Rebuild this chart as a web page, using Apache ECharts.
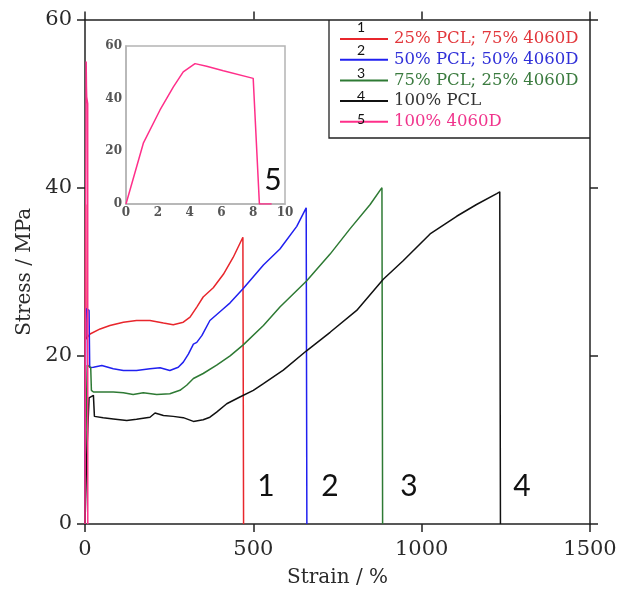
<!DOCTYPE html>
<html>
<head>
<meta charset="utf-8">
<script src="https://cdn.jsdelivr.net/npm/echarts@6/dist/echarts.min.js"></script>
<style>html,body{margin:0;padding:0;background:#fff;}#c{width:620px;height:594px;}</style>
</head>
<body>
<div id="c"></div>
<script>
// ---- data (strain %, stress MPa) ----
const seriesNames = ["25% PCL; 75% 4060D", "50% PCL; 50% 4060D", "75% PCL; 25% 4060D", "100% PCL", "100% 4060D"];
const seriesNumbers = ["1", "2", "3", "4", "5"];
const curve1 = [[0,0],[1,20],[2,38],[3,22],[8,21.8],[15,22.6],[45,23.2],[74,23.6],[114,24.0],[153,24.2],[193,24.2],[233,23.9],[262,23.7],[292,24.0],[312,24.6],[332,25.8],[351,27.0],[381,28.1],[411,29.7],[440,31.7],[469,34.1],[471,0]];
const curve2 = [[0,0],[2,24],[4,25.6],[12,25.4],[14,18.6],[25,18.65],[50,18.85],[84,18.46],[114,18.26],[153,18.26],[193,18.46],[223,18.58],[252,18.26],[277,18.65],[292,19.25],[307,20.2],[322,21.4],[332,21.6],[347,22.4],[371,24.2],[411,25.6],[431,26.3],[470,28.0],[530,30.8],[579,32.7],[629,35.4],[657,37.6],[659,0]];
const curve3 = [[0,0],[4,14],[7,18.9],[17,18.6],[19,15.9],[25,15.7],[54,15.7],[84,15.7],[114,15.6],[143,15.4],[173,15.6],[213,15.4],[252,15.5],[282,15.9],[302,16.5],[322,17.3],[351,17.9],[391,18.9],[431,20.0],[470,21.3],[530,23.6],[579,25.8],[658,28.9],[728,32.1],[787,35.1],[847,38.0],[882,40.0],[884,0]];
const curve4 = [[0,0],[5,8],[12,15],[25,15.3],[28,12.8],[54,12.65],[84,12.5],[124,12.3],[153,12.45],[193,12.7],[208,13.2],[233,12.9],[262,12.8],[292,12.65],[322,12.2],[351,12.4],[371,12.7],[391,13.3],[421,14.3],[460,15.1],[500,15.9],[530,16.7],[589,18.3],[658,20.6],[728,22.8],[807,25.4],[886,29.1],[945,31.3],[1025,34.5],[1104,36.6],[1163,38.0],[1223,39.3],[1232,39.5],[1234,0]];
const curve5 = [[0,0],[1,22],[2,36],[3,47],[3.5,55],[4.3,52],[5,50.8],[8,50],[8.3,0]];
const insetCurve5 = [[0,0],[1.09,23.1],[2.14,35.7],[2.98,44.5],[3.6,50.2],[4.34,53.3],[5.07,52.3],[6.12,50.6],[8.0,47.7],[8.39,0],[9.16,0]];
const xTicks = [0, 500, 1000, 1500];
const yTicks = [0, 20, 40, 60];
const insetXTicks = [0, 2, 4, 6, 8, 10];
const insetYTicks = [0, 20, 40, 60];

const colors = ["#e8262c", "#2020f0", "#2e7a34", "#111111", "#ff2f8a"];
const textColors = ["#e2373c", "#3030d8", "#3b7b3f", "#333333", "#f0348c"];
const serif = "DejaVu Serif";

const chart = echarts.init(document.getElementById('c'), null, {renderer: 'canvas'});

const mainAxisCommon = {
  min: 0,
  axisLine: {show: true, onZero: false, lineStyle: {color: '#222', width: 1.5}},
  axisTick: {show: true, inside: false, length: 8, lineStyle: {color: '#222', width: 1.5}},
  splitLine: {show: false}
};
const plain = v => String(v);

const option = {
  animation: false,
  backgroundColor: '#fff',
  grid: [
    {left: 85, top: 19.5, width: 505, height: 504.5, containLabel: false},
    {left: 126, top: 46, width: 159, height: 158, show: true, backgroundColor: '#fff', borderColor: '#b4b4b4', borderWidth: 1.5, z: 5}
  ],
  xAxis: [
    Object.assign({}, mainAxisCommon, {
      type: 'value', gridIndex: 0, position: 'bottom', max: xTicks[xTicks.length-1], interval: xTicks[1]-xTicks[0],
      axisLabel: {show: true, margin: 15, fontFamily: serif, fontSize: 21, color: '#2a2a2a', formatter: plain},
      name: 'Strain / %', nameLocation: 'middle', nameGap: 44,
      nameTextStyle: {fontFamily: serif, fontSize: 20, color: '#2a2a2a'}
    }),
    Object.assign({}, mainAxisCommon, {
      type: 'value', gridIndex: 0, position: 'top', max: xTicks[xTicks.length-1], interval: xTicks[1]-xTicks[0],
      axisLabel: {show: false}
    }),
    {
      type: 'value', gridIndex: 1, min: 0, max: insetXTicks[insetXTicks.length-1], interval: insetXTicks[1]-insetXTicks[0],
      axisLine: {show: true, lineStyle: {color: '#b4b4b4', width: 1.5}},
      axisTick: {show: false}, splitLine: {show: false},
      axisLabel: {margin: 3, fontFamily: serif, fontSize: 12, fontWeight: 'bold', color: '#555', formatter: plain},
      z: 6
    }
  ],
  yAxis: [
    Object.assign({}, mainAxisCommon, {
      type: 'value', gridIndex: 0, position: 'left', max: yTicks[yTicks.length-1], interval: yTicks[1]-yTicks[0],
      axisLabel: {show: true, margin: 13, fontFamily: serif, fontSize: 21, color: '#2a2a2a', formatter: plain},
      name: 'Stress / MPa', nameLocation: 'middle', nameGap: 50,
      nameTextStyle: {fontFamily: serif, fontSize: 20, color: '#2a2a2a'}
    }),
    Object.assign({}, mainAxisCommon, {
      type: 'value', gridIndex: 0, position: 'right', max: yTicks[yTicks.length-1], interval: yTicks[1]-yTicks[0],
      axisLabel: {show: false}
    }),
    {
      type: 'value', gridIndex: 1, min: 0, max: insetYTicks[insetYTicks.length-1], interval: insetYTicks[1]-insetYTicks[0],
      axisLine: {show: true, lineStyle: {color: '#b4b4b4', width: 1.5}},
      axisTick: {show: false}, splitLine: {show: false},
      axisLabel: {margin: 4, fontFamily: serif, fontSize: 12, fontWeight: 'bold', color: '#555', formatter: plain},
      z: 6
    }
  ],
  legend: {
    show: true,
    orient: 'vertical',
    left: 340, top: 30,
    padding: 0,
    itemWidth: 48, itemHeight: 2, itemGap: 2.7,
    icon: 'rect',
    selectedMode: false,
    data: seriesNames.map((n, i) => ({name: n, textStyle: {color: textColors[i]}})),
    textStyle: {fontFamily: serif, fontSize: 16.5, lineHeight: 18, padding: [0,0,0,1]}
  },
  series: [
    {name: seriesNames[0], data: curve1},
    {name: seriesNames[1], data: curve2},
    {name: seriesNames[2], data: curve3},
    {name: seriesNames[3], data: curve4},
    {name: seriesNames[4], data: curve5}
  ].map((s, i) => Object.assign(s, {
    type: 'line', xAxisIndex: 0, yAxisIndex: 0, showSymbol: false, symbol: 'none',
    lineStyle: {color: colors[i], width: 1.5}, itemStyle: {color: colors[i]}, z: 3
  })).concat([
    {name: seriesNames[4], type: 'line', xAxisIndex: 2, yAxisIndex: 2, data: insetCurve5, showSymbol: false, symbol: 'none',
     lineStyle: {color: colors[4], width: 1.5}, itemStyle: {color: colors[4]}, z: 7}
  ]),
  graphic: [
    {type: 'polyline', shape: {points: [[329,20],[329,138],[590,138]]}, style: {stroke: '#222', lineWidth: 1.3, fill: null}, z: 10},
    ...seriesNumbers.map((t, i) => ({
      type: 'text', x: 361, y: 27 + i*23.1, z: 11,
      style: {text: t, fontFamily: 'Lato', fontSize: 14, fill: '#111', align: 'center', verticalAlign: 'middle'}
    })),
    ...[[266,486],[330,486],[409,486],[522,486],[273,180]].map((p, i) => ({
      type: 'text', x: p[0], y: p[1], z: 11,
      style: {text: seriesNumbers[i], fontFamily: 'Lato', fontSize: 30, fill: '#111', align: 'center', verticalAlign: 'middle'}
    }))
  ]
};
chart.setOption(option);
</script>
</body>
</html>
